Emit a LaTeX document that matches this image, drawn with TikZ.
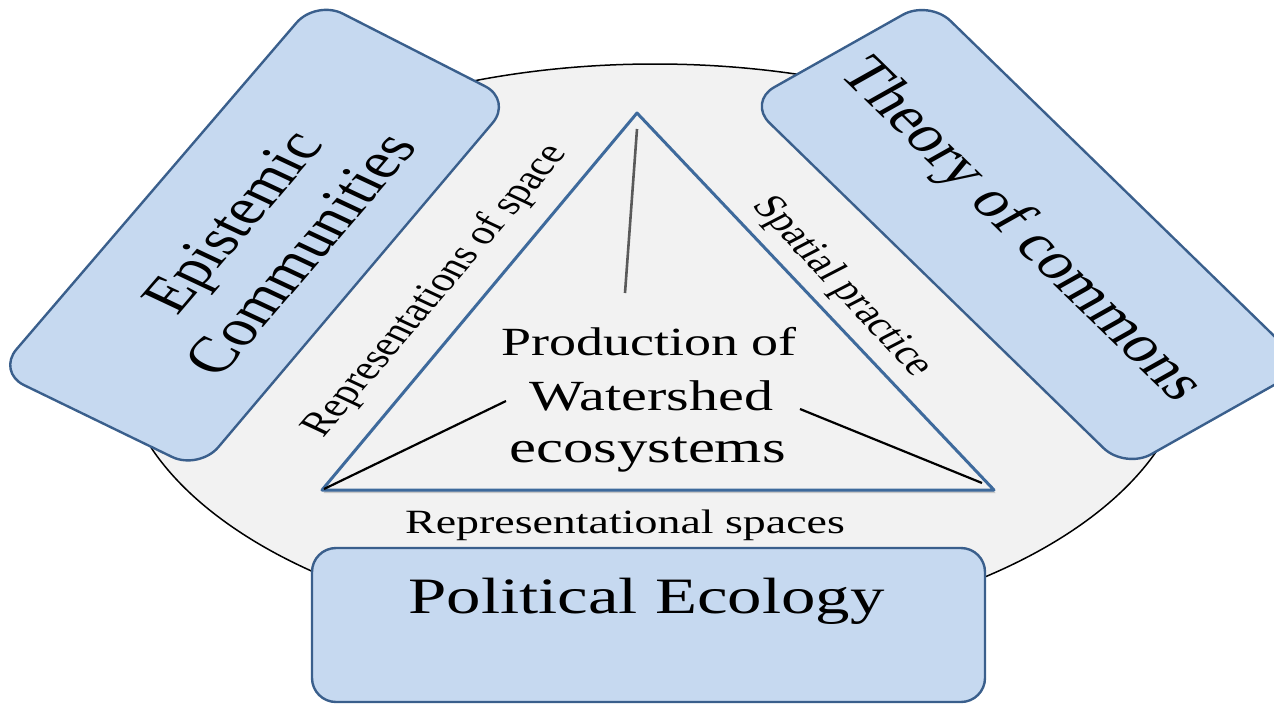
\documentclass[tikz,border=0pt]{standalone}
\usepackage{fontspec}
\setmainfont{Liberation Serif}
\usetikzlibrary{shadows}
\definecolor{boxfill}{RGB}{198,217,240}
\definecolor{boxline}{RGB}{58,95,140}
\definecolor{trifill}{RGB}{242,242,242}
\definecolor{triline}{RGB}{62,106,156}
\definecolor{ellfill}{RGB}{242,242,242}
\definecolor{vline}{RGB}{90,90,90}
\tikzset{
  conceptbox/.style={fill=boxfill, draw=boxline, line width=2.4pt, line join=round},
  sidelabel/.style={font=\fontsize{34}{40}\selectfont, inner sep=0pt},
  boxlabel/.style={font=\fontsize{51}{60}\selectfont, inner sep=0pt, align=center},
  prodlabel/.style={inner sep=0pt, anchor=base},
  spoke/.style={line width=2.2pt, black},
}
\begin{document}
\begin{tikzpicture}[x=1pt,y=-1pt]
\useasboundingbox (0,0) rectangle (1274,704);
\clip (0,0) rectangle (1274,704);
% outer ellipse
\draw[fill=ellfill, line width=1.5pt] (655,351) ellipse [x radius=535pt, y radius=287pt];
% triangle
\coordinate (apex) at (637,113);
\coordinate (bl) at (322,490);
\coordinate (br) at (994,490);
\draw[fill=trifill, draw=triline, line width=3pt, line join=round,
      drop shadow={shadow xshift=1.5pt, shadow yshift=-3pt, opacity=0.3, fill=black!60}]
  (apex) -- (br) -- (bl) -- cycle;
% spokes
\coordinate (vtop) at (637,129);
\coordinate (vbot) at (625,293);
\coordinate (lend) at (506,401);
\coordinate (lstart) at (324,489);
\coordinate (rend) at (800,409);
\coordinate (rstart) at (982,483);
\draw[line width=2.6pt, vline] (vtop) -- (vbot);
\draw[spoke] (lstart) -- (lend);
\draw[spoke] (rstart) -- (rend);
% central text
\node[prodlabel, font=\fontsize{40}{48}\selectfont, xscale=1.35] (prod) at (649,355) {Production of};
\node[prodlabel, font=\fontsize{43}{50}\selectfont, xscale=1.35] (water) at (651.5,410) {Watershed};
\node[prodlabel, font=\fontsize{45}{52}\selectfont, xscale=1.35] (eco) at (647.5,462) {ecosystems};
% side labels
\node[sidelabel, xscale=1.35, rotate=57.6] (repspace) at (436,291) {Representations of space};
\node[sidelabel, xscale=1.35, rotate=-55] (spatial) at (842,287) {Spatial practice};
\node[sidelabel, anchor=base, xscale=1.35] (repspaces) at (625,533) {Representational spaces};
% Epistemic Communities box
\coordinate (e1) at (316,0);
\coordinate (e2) at (512,100);
\coordinate (e3) at (199,470);
\coordinate (e4) at (-3,372);
\draw[conceptbox, rounded corners=30pt] (e1) -- (e2) -- (e3) -- (e4) -- cycle;
\node[boxlabel, xscale=1.35, rotate=57.6] (epist) at (266,238) {Epistemic\\Communities};
% Theory of commons box
\coordinate (t1) at (929,0);
\coordinate (t2) at (1306,367);
\coordinate (t3) at (1125,469);
\coordinate (t4) at (748,102);
\draw[conceptbox, rounded corners=30pt] (t1) -- (t2) -- (t3) -- (t4) -- cycle;
\node[boxlabel, xscale=1.35, rotate=-52.8] (theory) at (1020,231) {Theory of commons};
% Political Ecology box
\draw[conceptbox, rounded corners=24pt] (312,548) rectangle (985,702);
\node[boxlabel, anchor=base, xscale=1.35] (polec) at (646.5,613) {Political Ecology};
\end{tikzpicture}
\end{document}
